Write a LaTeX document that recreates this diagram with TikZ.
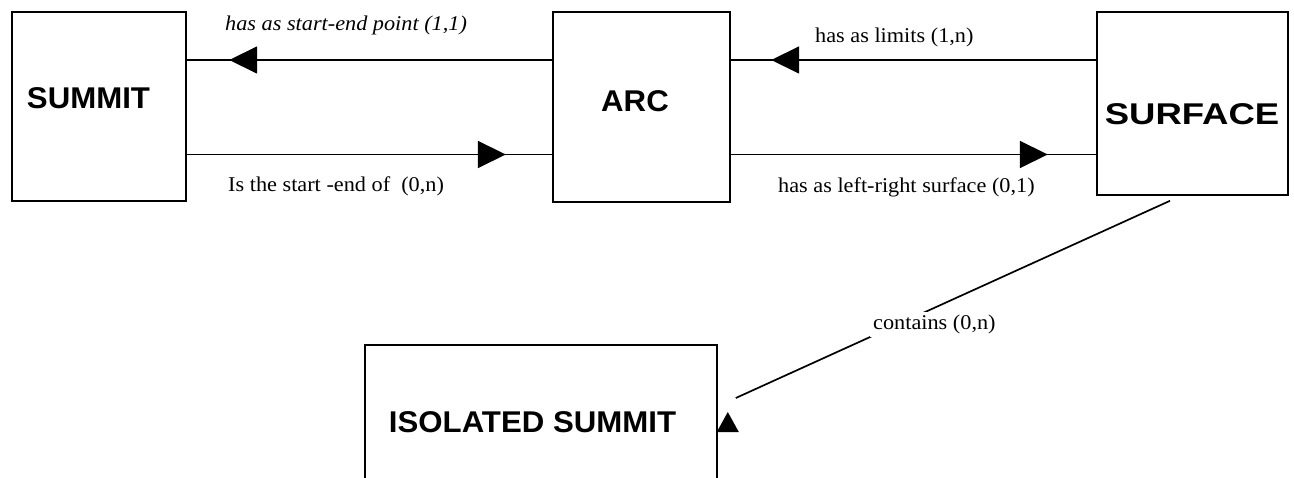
\documentclass[tikz,border=0pt]{standalone}
\usepackage{fontspec}
\setmainfont{Liberation Serif}
\newfontfamily\boxfont[FakeStretch=1.04]{Liberation Sans}
\newfontfamily\lblfont[FakeStretch=1.06]{Liberation Serif}
\usetikzlibrary{arrows.meta,decorations.markings}
\tikzset{
  box/.style={draw, line width=1.6pt, inner sep=0pt},
  boxtxt/.style={font=\boxfont\bfseries\fontsize{30}{32}\selectfont, inner sep=0pt, anchor=base},
  lbl/.style={font=\lblfont\fontsize{21}{23}\selectfont, inner sep=0pt, anchor=base west},
  conn/.style={line width=1.7pt},
  tipat/.style={postaction={decorate}, decoration={markings,
      mark=at position #1 with {\arrow{Triangle[length=28pt,width=27pt]}}}}
}
\begin{document}
\begin{tikzpicture}[x=1pt,y=-1pt]
\useasboundingbox (0,0) rectangle (1294,478);
\clip (0,0) rectangle (1294,478);
% boxes
\node[box, minimum width=174pt, minimum height=189pt] (summit) at (99,106.5) {};
\node[box, minimum width=177pt, minimum height=190pt] (arc) at (641.5,107) {};
\node[box, minimum width=191pt, minimum height=183pt] (surface) at (1192.5,103.5) {};
\node[box, minimum width=352pt, minimum height=200pt] (iso) at (541,445) {};
% box texts
\node[boxtxt] (summitT) at (88.5,108.5) {SUMMIT};
\node[boxtxt] (arcT) at (635,111.5) {ARC};
\node[boxtxt] (surfaceT) at (1192,124.5) {\scalebox{1.17}[1]{SURFACE}};
\node[boxtxt] (isoT) at (532.5,432) {ISOLATED SUMMIT};
% rows
\coordinate (r1) at (0,60);
\coordinate (r2) at (0,154.5);
% connectors
\draw[conn, tipat=323pt] (arc.west |- r1) -- (summit.east |- r1);
\draw[conn, tipat=319pt] (summit.east |- r2) -- (arc.west |- r2);
\draw[conn, tipat=325pt] (surface.west |- r1) -- (arc.east |- r1);
\draw[conn, tipat=317pt] (arc.east |- r2) -- (surface.west |- r2);
\coordinate (sstart) at ([xshift=-22.5pt,yshift=-5pt]surface.south);
\coordinate (isoend) at ([xshift=18pt,yshift=47pt]iso.east);
\coordinate (isotip) at ([xshift=10pt,yshift=33pt]iso.east);
\draw[conn] (sstart) -- (isoend);
\fill (isotip) -- ++(11,20) -- ++(-22,0) -- cycle;
% labels
\node[lbl, font=\lblfont\itshape\fontsize{21}{23}\selectfont] (l1) at (225,31) {has as start-end point (1,1)};
\node[lbl] (l2) at (228,192) {Is the start -end of\ \ (0,n)};
\node[lbl] (l3) at (815,43) {has as limits (1,n)};
\node[lbl] (l4) at (778,193) {has as left-right surface (0,1)};
\node[lbl, fill=white, inner sep=3pt] (l5) at (870,330) {contains (0,n)};
\end{tikzpicture}
\end{document}
